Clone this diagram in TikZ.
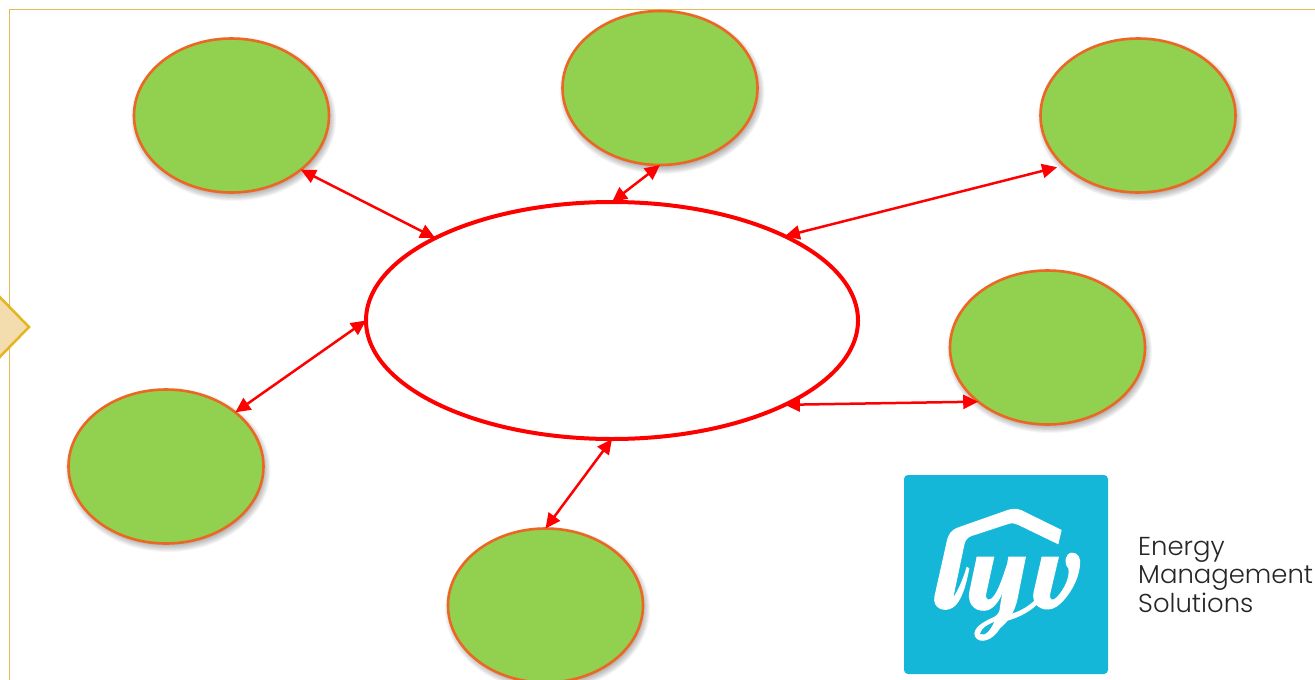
\documentclass[tikz,border=0pt]{standalone}
\usepackage{fontspec}
\setmainfont{Poppins Light}
\usetikzlibrary{arrows.meta,shapes.geometric}
\definecolor{leaf}{HTML}{92D050}
\definecolor{rim}{HTML}{EB6824}
\definecolor{frameline}{HTML}{E3BC4E}
\definecolor{tan}{HTML}{F3DCAE}
\definecolor{gold}{HTML}{E5B51E}
\definecolor{logoblue}{HTML}{14B7D8}
\tikzset{
  leafnode/.style={ellipse,draw=rim,fill=leaf,line width=2.6pt,minimum width=195pt,minimum height=154pt,inner sep=0pt,outer sep=0pt},
  hub/.style={ellipse,draw=red,fill=white,line width=4pt,minimum width=492pt,minimum height=237pt,inner sep=0pt,outer sep=0pt},
  link/.style={red,line width=2.5pt,{Triangle[length=15pt,width=14pt]}-{Triangle[length=15pt,width=14pt]}},
  softshadow/.style={black,opacity=0.04},
  caption/.style={anchor=base west,inner sep=0pt,font=\fontsize{25.9}{26}\selectfont,text=black!85}
}
\newcommand{\softblob}[2]{%
  \foreach \g in {0,1,...,7}{\fill[softshadow] (#1+2,#2+4) ellipse ({98.5+\g-3} and {78+\g-3});}}
\begin{document}
\begin{tikzpicture}[x=1pt,y=-1pt]
\useasboundingbox (0,0) rectangle (1315,680);
\clip (0,0) rectangle (1315,680);
\fill[white] (0,0) rectangle (1315,680);
\draw[frameline,line width=1pt] (9.5,680) -- (9.5,9.5) -- (1315,9.5);
\draw[gold,fill=tan,line width=2.5pt] (-10,287) -- (29,327) -- (-10,367) -- cycle;
\softblob{231.5}{115}\softblob{660}{88}\softblob{1138}{115}\softblob{1047.5}{347}\softblob{166}{466}\softblob{545.5}{605}
\node[leafnode] (a) at (231.5,115.5) {};
\node[leafnode] (b) at (660,88) {};
\node[leafnode] (c) at (1138,115.5) {};
\node[leafnode] (d) at (1047.5,347.5) {};
\node[leafnode] (e) at (166,466.5) {};
\node[leafnode] (f) at (545.5,605.5) {};
\node[hub] (h) at (612,320.5) {};
\draw[link] (a.-38) -- (h.155.5);
\draw[link] (b.-90) -- (h.90);
\draw[link,shorten <=7pt] (c.214.5) -- (h.26.5);
\draw[link] (d.218.8) -- (h.-26.5);
\draw[link] (e.38.6) -- (h.180);
\draw[link] (f.90) -- (h.-90);
\node[fill=logoblue,rounded corners=4pt,minimum width=204pt,minimum height=199pt,inner sep=0pt] (logo) at (1006,574.5) {};
\begin{scope}[shift={(925,500)},x=0.3333pt,y=-0.3333pt]
% roof and l
\fill[white] (410,90) -- (288,30) .. controls (272,24) and (258,26) .. (245,31) -- (100,82) .. controls (78,90) and (70,102) .. (65,125) -- (28,290) .. controls (22,325) and (58,340) .. (85,322) .. controls (110,305) and (125,250) .. (133,205) -- (125,200) .. controls (115,235) and (100,270) .. (85,292) -- (118,135) .. controls (121,120) and (128,112) .. (140,108) -- (250,72) .. controls (262,68) and (270,70) .. (280,75) -- (400,133) -- cycle;
% u
\fill[white] (155,170) -- (208,170) -- (184,280) .. controls (180,300) and (192,305) .. (205,290) .. controls (222,268) and (235,225) .. (245,195) -- (250,200) -- (236,270) .. controls (225,300) and (210,322) .. (190,330) .. controls (160,340) and (125,320) .. (133,275) -- cycle;
% y with its loop
\fill[white] (250,170) -- (303,170) -- (278,295) .. controls (270,335) and (250,365) .. (225,385) .. controls (205,420) and (165,435) .. (150,410) .. controls (140,385) and (175,365) .. (205,352) .. controls (218,346) and (225,335) .. (225,320) -- cycle;
\fill[logoblue] (165,402) .. controls (170,382) and (190,374) .. (207,366) .. controls (197,390) and (180,410) .. (165,402) -- cycle;
% swoosh
\fill[white] (225,350) .. controls (270,342) and (305,325) .. (330,300) -- (338,312) .. controls (310,340) and (270,358) .. (225,368) -- cycle;
% v
\fill[white] (350,170) -- (402,170) -- (376,280) .. controls (372,300) and (382,305) .. (395,292) .. controls (420,265) and (435,230) .. (430,205) .. controls (415,190) and (420,160) .. (440,158) .. controls (460,157) and (468,175) .. (465,195) .. controls (462,240) and (430,295) .. (395,320) .. controls (365,340) and (320,325) .. (325,280) -- cycle;
\end{scope}
\node[caption] (t1) at (1138,555) {Energy};
\node[caption] (t2) at (1138,583) {Management};
\node[caption] (t3) at (1138,612) {Solutions};
\end{tikzpicture}
\end{document}
